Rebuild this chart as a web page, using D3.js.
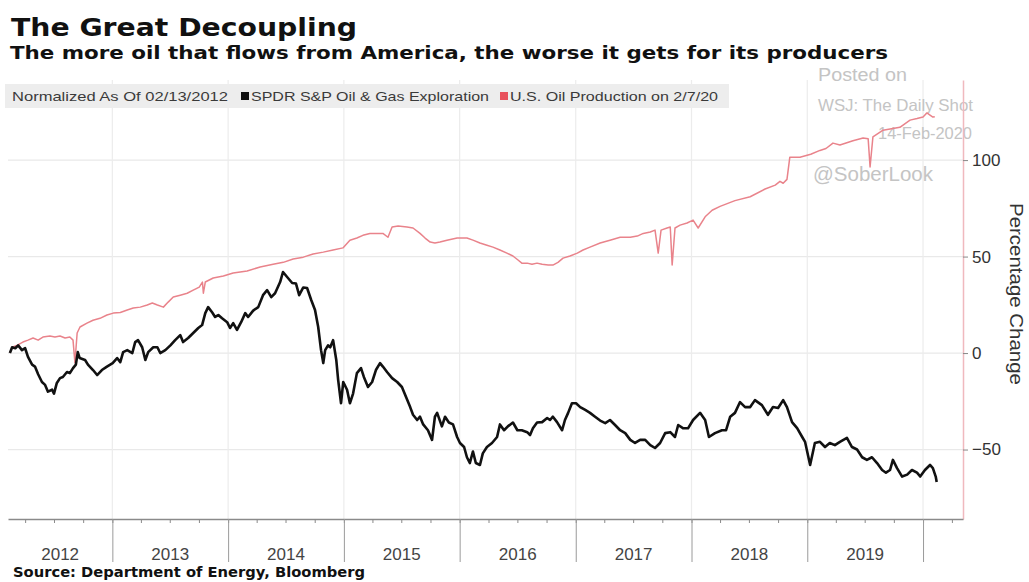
<!DOCTYPE html>
<html>
<head>
<meta charset="utf-8">
<script src="https://cdn.jsdelivr.net/npm/d3@7"></script>
<style>
  body { margin: 0; background: #ffffff; }
  svg { display: block; }
</style>
</head>
<body>
<svg id="chart" width="1029" height="582"></svg>
<script>
// SPDR S&P Oil & Gas Exploration ETF, % change since 02/13/2012
const xopDates = [
  "2012-02-13","2012-02-20","2012-03-01","2012-03-10","2012-03-22","2012-04-01","2012-04-10","2012-04-23",
  "2012-05-02","2012-05-12","2012-05-24","2012-06-03","2012-06-12","2012-06-25","2012-07-01","2012-07-10",
  "2012-07-20","2012-07-29","2012-08-11","2012-08-20","2012-08-30","2012-09-08","2012-09-14","2012-09-20",
  "2012-10-07","2012-10-16","2012-11-01","2012-11-14","2012-11-29","2012-12-15",
  "2013-01-02","2013-01-16","2013-01-26","2013-02-04","2013-02-17","2013-03-05","2013-03-14","2013-03-23",
  "2013-04-05","2013-04-15","2013-04-24","2013-05-10","2013-05-23","2013-06-01","2013-06-17","2013-07-03",
  "2013-07-18","2013-08-03","2013-08-12","2013-08-28","2013-09-13","2013-09-29","2013-10-11","2013-10-21",
  "2013-10-30","2013-11-12","2013-11-21","2013-12-01","2013-12-13","2013-12-29",
  "2014-01-07","2014-01-17","2014-01-29","2014-02-11","2014-02-24","2014-03-05","2014-03-21","2014-04-06",
  "2014-04-21","2014-05-04","2014-05-17","2014-05-29","2014-06-14","2014-06-23","2014-07-06","2014-07-22",
  "2014-08-03","2014-08-13","2014-08-26","2014-09-07","2014-09-20","2014-10-02","2014-10-12","2014-10-21",
  "2014-10-28","2014-11-03","2014-11-12","2014-11-19","2014-11-28","2014-12-08","2014-12-14","2014-12-23",
  "2014-12-30",
  "2015-01-11","2015-01-20","2015-01-30","2015-02-11","2015-02-24","2015-03-05","2015-03-18","2015-03-31",
  "2015-04-12","2015-04-25","2015-05-04","2015-05-17","2015-06-02","2015-06-18","2015-07-03","2015-07-16",
  "2015-07-29","2015-08-07","2015-08-20","2015-08-29","2015-09-08","2015-09-23","2015-10-06","2015-10-15",
  "2015-10-22","2015-11-06","2015-11-16","2015-11-28","2015-12-11","2015-12-24",
  "2016-01-02","2016-01-15","2016-01-24","2016-02-02","2016-02-12","2016-02-21","2016-03-05","2016-03-14",
  "2016-03-27","2016-04-12","2016-04-28","2016-05-07","2016-05-20","2016-06-01","2016-06-17","2016-07-01",
  "2016-07-15","2016-08-01","2016-08-10","2016-08-19","2016-09-01","2016-09-17","2016-10-03","2016-10-12",
  "2016-10-21","2016-11-03","2016-11-19","2016-11-28","2016-12-08","2016-12-20",
  "2017-01-02","2017-01-15","2017-01-31","2017-02-15","2017-03-03","2017-03-19","2017-04-04","2017-04-19",
  "2017-05-05","2017-05-21","2017-06-06","2017-06-22","2017-07-07","2017-07-23","2017-08-08","2017-08-24",
  "2017-09-08","2017-09-24","2017-10-10","2017-10-26","2017-11-10","2017-11-20","2017-12-06","2017-12-21",
  "2018-01-06","2018-01-28","2018-02-13","2018-02-25","2018-03-16","2018-04-07","2018-04-20","2018-05-03",
  "2018-05-18","2018-06-03","2018-06-19","2018-07-05","2018-07-20","2018-08-11","2018-08-30","2018-09-15",
  "2018-10-01","2018-10-17","2018-10-29","2018-11-14","2018-11-30","2018-12-16","2018-12-25",
  "2019-01-10","2019-01-25","2019-02-10","2019-02-26","2019-03-13","2019-03-29","2019-04-14","2019-05-06",
  "2019-05-22","2019-06-07","2019-06-23","2019-07-08","2019-07-24","2019-08-09","2019-08-25","2019-09-06",
  "2019-09-19","2019-09-28","2019-10-11","2019-10-27","2019-11-12","2019-11-27","2019-12-13","2019-12-23",
  "2020-01-07","2020-01-23","2020-02-01","2020-02-10","2020-02-13"
];
const xopValues = [
  0, 3, 2.5, 4, 1.5, 2.5, -2, -6,
  -7, -11, -15, -16.5, -20, -19, -21, -15.5,
  -13, -12.4, -9.8, -10.4, -7.8, -6, 0.5, -2.6,
  -3.6, -6, -8.8, -11.4, -8.8, -7,
  -5.2, -2.6, -4.7, 0.5, 1.5, 0, 5.7, 6.7,
  3, -3.6, 0.5, 3, 3, 0, 1.5, 4,
  6.7, 9.3, 5.7, 7.8, 10.4, 13, 14.5, 20.7,
  23.8, 21, 18.7, 19.7, 18, 16,
  13, 15.5, 12, 16, 20.7, 18.7, 22, 23.8,
  30, 32.6, 29, 31, 36.8, 42, 39.4, 36.3,
  36, 30, 34, 33.7, 27.5, 22.3, 13.5, 1.5,
  -5.2, 1.5, 4, 3, 6.7, -3.6, -14, -26,
  -15,
  -19, -26, -21, -10.4, -7.8, -12.4, -17.6, -15,
  -8.8, -5.2, -7, -9.8, -13, -15, -17.6, -22.8,
  -28, -32, -34.7, -33, -37, -40, -45, -33,
  -31, -38, -33, -36, -37, -43.5,
  -46.6, -48.7, -54, -57, -51, -57, -58, -52,
  -48.7, -46.6, -43.5, -37, -40, -38, -36, -40,
  -40, -41, -42.5, -39, -36, -35.8, -33.7, -34.7,
  -33, -35.8, -40, -34.7, -31, -26,
  -26, -28, -29.5, -31, -33, -35, -36.3, -34.7,
  -37.3, -40, -41.5, -45, -46.6, -45, -45, -47.7,
  -49.2, -46.6, -41.5, -41, -43.5, -37.3, -39, -39,
  -34.7, -31, -34.7, -43.5, -41.5, -40, -40, -33,
  -31, -25.4, -28, -28, -24.4, -27, -32, -28,
  -28.5, -24.4, -28, -35.8, -38.9, -43.5, -46,
  -58, -46.6, -46, -48.7, -46.6, -47.7, -46, -44,
  -48.7, -50, -54, -55.4, -54, -57, -60.6, -62,
  -60.6, -55.4, -59.6, -64, -63, -60.6, -62, -64,
  -60.6, -58, -59.6, -64, -66.8
];

// U.S. crude oil production, % change since 02/13/2012
const prodDates = [
  "2012-02-13","2012-02-20","2012-03-06","2012-03-25","2012-04-10","2012-04-26","2012-05-12","2012-05-27",
  "2012-06-18","2012-07-04","2012-07-20","2012-08-05","2012-08-20","2012-08-30","2012-09-05","2012-09-12",
  "2012-09-21","2012-10-13","2012-11-01","2012-11-23","2012-12-15",
  "2013-01-04","2013-01-26","2013-02-17","2013-03-08","2013-03-30","2013-04-21","2013-05-07","2013-05-23",
  "2013-06-11","2013-06-26","2013-07-12","2013-08-03","2013-08-25","2013-09-13","2013-10-02","2013-10-12",
  "2013-10-15","2013-10-21","2013-11-15","2013-12-17",
  "2014-01-17","2014-03-02","2014-04-12","2014-05-23","2014-06-24","2014-07-25","2014-08-26","2014-09-26",
  "2014-10-28","2014-11-28","2014-12-29",
  "2015-01-20","2015-02-11","2015-03-02","2015-03-24","2015-04-15","2015-05-04","2015-05-20","2015-06-02",
  "2015-06-21","2015-07-19","2015-08-07","2015-08-29","2015-09-14","2015-09-30","2015-10-15","2015-10-31",
  "2015-11-22","2015-12-24",
  "2016-01-24","2016-02-12","2016-03-05","2016-03-27","2016-04-15","2016-05-07","2016-05-29","2016-06-17",
  "2016-07-03","2016-07-15","2016-08-01","2016-08-16","2016-09-01","2016-09-17","2016-10-06","2016-10-21",
  "2016-11-06","2016-11-22","2016-12-14",
  "2017-01-06","2017-01-24","2017-02-15","2017-03-19","2017-04-19","2017-05-21","2017-06-22","2017-07-14",
  "2017-08-02","2017-08-24","2017-09-08","2017-09-18","2017-09-27","2017-10-16","2017-10-26","2017-11-01",
  "2017-11-10","2017-11-26","2017-12-18",
  "2018-01-06","2018-01-22","2018-02-13","2018-03-07","2018-04-01","2018-05-18","2018-07-05","2018-08-21",
  "2018-09-22","2018-10-07","2018-10-17","2018-10-29","2018-11-07","2018-12-09",
  "2019-01-12","2019-02-10","2019-03-01","2019-03-23","2019-04-14","2019-05-25","2019-06-26","2019-07-12",
  "2019-07-18","2019-07-27","2019-08-28","2019-10-20","2019-11-21","2019-12-13",
  "2020-01-01","2020-01-13","2020-02-01","2020-02-07"
];
const prodValues = [
  0, 3, 4, 5.7, 6.7, 7.8, 6.7, 8.3,
  8.8, 8.3, 8.8, 7.8, 8.3, 6.7, -5, 10.4,
  13.5, 15.5, 17, 18, 19.7,
  20.7, 21, 22.3, 23.3, 23.8, 24.9, 25.9, 24.9,
  23.8, 26.4, 29, 30, 31, 32.6, 34.2, 36.8,
  31, 36.8, 38.9, 39.9,
  41.5, 42.5, 44.6, 46, 47, 48.7, 49.7, 51.3,
  52.3, 53.4, 54.5,
  58.5, 59.6, 61, 62, 62, 62, 60, 65.3,
  65.8, 65.3, 64.8, 62, 59.6, 57.5, 57, 57.5,
  58.5, 59.6,
  59.6, 58.5, 57, 55.9, 54.9, 53.4, 51.8, 50.3,
  48.2, 46.6, 46.6, 46, 46.6, 46, 45.6, 45.6,
  47, 49.2, 50.3,
  51.8, 53.4, 54.9, 57, 58.5, 60, 60, 60.6,
  62, 62.7, 63.7, 51.8, 63.7, 64.8, 65.3, 45.6,
  64.8, 66.3, 67.4,
  68.9, 64.8, 70.6, 74, 76, 79, 81, 85,
  87, 89, 88, 90, 101.5, 101.5,
  103, 105, 106, 108.8, 107.8, 110, 111.4, 111,
  96.4, 112, 115.5, 117, 120.7, 121.5,
  122.3, 124.4, 122.3, 122.5
];

const yearLabels = ["2012","2013","2014","2015","2016","2017","2018","2019"];
const yTickValues = [-50, 0, 50, 100];
const legendNote = "Normalized As Of 02/13/2012";
const seriesNames = ["SPDR S&P Oil & Gas Exploration", "U.S. Oil Production on 2/7/20"];
const seriesColors = ["#111111", "#e9838b"];
const swatchColors = ["#111111", "#e8505c"];

const parse = d3.utcParse("%Y-%m-%d");
const xop = xopDates.map((d, i) => ({ date: parse(d), value: xopValues[i] }));
const prod = prodDates.map((d, i) => ({ date: parse(d), value: prodValues[i] }));

const svg = d3.select("#chart");
const W = 1029, H = 582;
const plot = { left: 8, right: 963, top: 80, bottom: 519 };

const x = d3.scaleUtc()
  .domain([parse("2012-02-07"), parse("2020-05-06")])
  .range([plot.left, plot.right]);
const y = d3.scaleLinear()
  .domain([-86, 141.5])
  .range([plot.bottom, plot.top]);

svg.append("rect").attr("width", W).attr("height", H).attr("fill", "#ffffff");

// Titles
svg.append("text")
  .attr("x", 11).attr("y", 36)
  .attr("font-family", "DejaVu Sans")
  .attr("font-weight", "bold")
  .attr("font-size", 24)
  .attr("fill", "#111")
  .attr("textLength", 346).attr("lengthAdjust", "spacingAndGlyphs")
  .text("The Great Decoupling");
svg.append("text")
  .attr("x", 10).attr("y", 59)
  .attr("font-family", "DejaVu Sans")
  .attr("font-weight", "bold")
  .attr("font-size", 17)
  .attr("fill", "#111")
  .attr("textLength", 878).attr("lengthAdjust", "spacingAndGlyphs")
  .text("The more oil that flows from America, the worse it gets for its producers");

// Grid
const years = d3.utcYear.range(parse("2013-01-01"), parse("2020-01-02"));
const grid = svg.append("g");
grid.selectAll("line.h").data(yTickValues).join("line")
  .attr("x1", plot.left).attr("x2", plot.right)
  .attr("y1", d => y(d)).attr("y2", d => y(d))
  .attr("stroke", "#e9e9e9").attr("stroke-width", 1.2);
grid.selectAll("line.v").data(years).join("line")
  .attr("x1", d => x(d)).attr("x2", d => x(d))
  .attr("y1", plot.top).attr("y2", plot.bottom)
  .attr("stroke", "#ececec").attr("stroke-width", 1.2);

// Legend band
const lg = svg.append("g");
lg.append("rect").attr("x", 5).attr("y", 84).attr("width", 724).attr("height", 24).attr("fill", "#ededed");
const legendFont = "Liberation Sans";
lg.append("text").attr("x", 12).attr("y", 101)
  .attr("font-family", legendFont).attr("font-size", 13).attr("fill", "#3a3a3a")
  .attr("textLength", 216).attr("lengthAdjust", "spacingAndGlyphs")
  .text(legendNote);
const legendItems = [
  { sx: 241, tx: 251, len: 238 },
  { sx: 500, tx: 510, len: 208 }
];
legendItems.forEach((it, i) => {
  lg.append("rect").attr("x", it.sx).attr("y", 92).attr("width", 8).attr("height", 8)
    .attr("fill", swatchColors[i]);
  lg.append("text").attr("x", it.tx).attr("y", 101)
    .attr("font-family", legendFont).attr("font-size", 13).attr("fill", "#3a3a3a")
    .attr("textLength", it.len).attr("lengthAdjust", "spacingAndGlyphs")
    .text(seriesNames[i]);
});

// Watermark
const wm = svg.append("g").attr("font-family", "Liberation Sans").attr("fill", "#c4c4c4");
wm.append("text").attr("x", 818).attr("y", 81).attr("font-size", 18)
  .attr("textLength", 89).attr("lengthAdjust", "spacingAndGlyphs").text("Posted on");
wm.append("text").attr("x", 818).attr("y", 111).attr("font-size", 16.5)
  .attr("textLength", 155).attr("lengthAdjust", "spacingAndGlyphs").text("WSJ: The Daily Shot");
wm.append("text").attr("x", 878).attr("y", 139).attr("font-size", 16.5)
  .attr("textLength", 94).attr("lengthAdjust", "spacingAndGlyphs").text("14-Feb-2020");
wm.append("text").attr("x", 813).attr("y", 181).attr("font-size", 20.5)
  .attr("textLength", 120).attr("lengthAdjust", "spacingAndGlyphs").text("@SoberLook");

// Series
const line = d3.line().x(d => x(d.date)).y(d => y(d.value));
svg.append("path").datum(prod)
  .attr("d", line).attr("fill", "none")
  .attr("stroke", seriesColors[1]).attr("stroke-width", 1.5)
  .attr("stroke-linejoin", "round");
svg.append("path").datum(xop)
  .attr("d", line).attr("fill", "none")
  .attr("stroke", seriesColors[0]).attr("stroke-width", 2.6)
  .attr("stroke-linejoin", "round");

// Right axis
const yAxis = svg.append("g")
  .attr("transform", `translate(${plot.right},0)`)
  .call(d3.axisRight(y).tickValues(yTickValues).tickSize(5).tickPadding(4).tickSizeOuter(0));
yAxis.select(".domain").attr("stroke", "#f0b9be").attr("stroke-width", 1.5);
yAxis.selectAll(".tick line").attr("stroke", "#888");
yAxis.selectAll(".tick text")
  .attr("font-family", "Liberation Sans").attr("font-size", 17).attr("fill", "#333");

svg.append("text")
  .attr("transform", `translate(1010,294) rotate(90)`)
  .attr("text-anchor", "middle")
  .attr("font-family", "Liberation Sans").attr("font-size", 18).attr("fill", "#333")
  .attr("textLength", 182).attr("lengthAdjust", "spacingAndGlyphs")
  .text("Percentage Change");

// Bottom axis: quarterly minor ticks, yearly separators
const quarters = d3.utcMonth.every(3).range(x.domain()[0], x.domain()[1]);
const xMinor = svg.append("g")
  .attr("transform", `translate(0,${plot.bottom})`)
  .call(d3.axisBottom(x).tickValues(quarters).tickSize(4).tickFormat("").tickSizeOuter(0));
xMinor.select(".domain").attr("stroke", "#8a8a8a").attr("stroke-width", 1.5);
xMinor.selectAll(".tick line").attr("stroke", "#8a8a8a");

const xMajor = svg.append("g")
  .attr("transform", `translate(0,${plot.bottom})`)
  .call(d3.axisBottom(x).tickValues(years).tickSize(43).tickFormat(""));
xMajor.select(".domain").remove();
xMajor.selectAll(".tick line").attr("stroke", "#9a9a9a");

const yearStarts = yearLabels.map(s => parse(s + "-01-01"));
svg.append("g").selectAll("text").data(yearLabels).join("text")
  .attr("x", (d, i) => {
    const a = Math.max(x(yearStarts[i]), plot.left);
    const b = x(d3.utcYear.offset(yearStarts[i], 1));
    return (a + b) / 2;
  })
  .attr("y", 560)
  .attr("text-anchor", "middle")
  .attr("font-family", "Liberation Sans").attr("font-size", 17).attr("fill", "#444")
  .text(d => d);

// Source
svg.append("text")
  .attr("x", 13).attr("y", 577)
  .attr("font-family", "DejaVu Sans").attr("font-weight", "bold")
  .attr("font-size", 14).attr("fill", "#111")
  .attr("textLength", 352).attr("lengthAdjust", "spacingAndGlyphs")
  .text("Source: Department of Energy, Bloomberg");
</script>
</body>
</html>
